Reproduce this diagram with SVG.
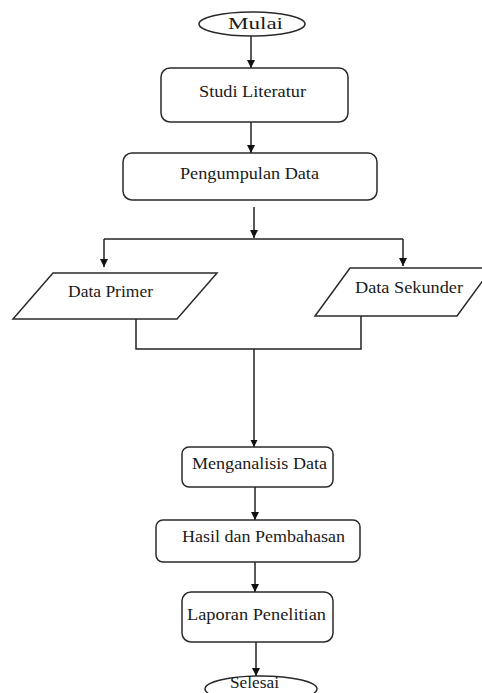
<svg xmlns="http://www.w3.org/2000/svg" width="482" height="693" viewBox="0 0 482 693">
<style>
.s{fill:#fff;stroke:#2a2a2a;stroke-width:1.5}
.t{font-family:"Liberation Serif","Times New Roman",serif;font-size:16px;fill:#1a1a1a;text-anchor:middle}
.c{fill:none;stroke:#222;stroke-width:1.5}
</style>
<defs>
<marker id="ah" viewBox="0 0 10 10" refX="10" refY="5" markerWidth="8" markerHeight="8" markerUnits="userSpaceOnUse" orient="auto">
<path d="M0,0 L10,5 L0,10 z" fill="#111"/>
</marker>
<marker id="ah2" viewBox="0 0 10 10" refX="10" refY="5" markerWidth="5" markerHeight="5" orient="auto">
<path d="M0,0 L10,5 L0,10 z" fill="#111"/>
</marker>
</defs>
<rect width="482" height="693" fill="#fff"/>
<g id="connectors">
<line class="c" x1="251" y1="36" x2="251" y2="68" marker-end="url(#ah)"/>
<line class="c" x1="251" y1="122" x2="251" y2="153" marker-end="url(#ah)"/>
<line class="c" x1="254" y1="207" x2="254" y2="238" marker-end="url(#ah)"/>
<line class="c" x1="104" y1="239" x2="403" y2="239"/>
<line class="c" x1="104" y1="239" x2="104" y2="267" marker-end="url(#ah)"/>
<line class="c" x1="403" y1="239" x2="403" y2="266" marker-end="url(#ah)"/>
<polyline class="c" points="136,319 136,349 361,349 361,316"/>
<line class="c" x1="254" y1="349" x2="254" y2="447" stroke-width="3" marker-end="url(#ah2)"/>
<line class="c" x1="255" y1="487" x2="255" y2="520" marker-end="url(#ah)"/>
<line class="c" x1="255" y1="562" x2="255" y2="592" marker-end="url(#ah)"/>
<line class="c" x1="256" y1="642" x2="256" y2="676" marker-end="url(#ah)"/>
</g>
<g id="mulai">
<ellipse class="s" cx="252" cy="24" rx="53" ry="12"/>
<text class="t" x="255.5" y="28.5" textLength="55" lengthAdjust="spacingAndGlyphs">Mulai</text>
</g>
<g id="studi">
<rect class="s" x="161" y="68" width="187" height="54" rx="9"/>
<text class="t" x="252.5" y="97" textLength="107" lengthAdjust="spacingAndGlyphs">Studi Literatur</text>
</g>
<g id="pengumpulan">
<rect class="s" x="123" y="153" width="254" height="47" rx="9"/>
<text class="t" x="249.5" y="179" textLength="139" lengthAdjust="spacingAndGlyphs">Pengumpulan Data</text>
</g>
<g id="primer">
<polygon class="s" points="53,273 217,273 177,319 13,319"/>
<text class="t" x="110.5" y="297" textLength="85" lengthAdjust="spacingAndGlyphs">Data Primer</text>
</g>
<g id="sekunder">
<polygon class="s" points="350,268 492,268 457,316 315,316"/>
<text class="t" x="409" y="293" textLength="108" lengthAdjust="spacingAndGlyphs">Data Sekunder</text>
</g>
<g id="menganalisis">
<rect class="s" x="182" y="447" width="151" height="40" rx="7"/>
<text class="t" x="259.5" y="469" textLength="135" lengthAdjust="spacingAndGlyphs">Menganalisis Data</text>
</g>
<g id="hasil">
<rect class="s" x="156" y="520" width="204" height="42" rx="7"/>
<text class="t" x="263.5" y="542" textLength="163" lengthAdjust="spacingAndGlyphs">Hasil dan Pembahasan</text>
</g>
<g id="laporan">
<rect class="s" x="182" y="592" width="151" height="50" rx="9"/>
<text class="t" x="256.5" y="620" textLength="139" lengthAdjust="spacingAndGlyphs">Laporan Penelitian</text>
</g>
<g id="selesai">
<ellipse class="s" cx="261" cy="689" rx="56" ry="13"/>
<text class="t" x="254.5" y="688" textLength="49" lengthAdjust="spacingAndGlyphs">Selesai</text>
</g>
</svg>
